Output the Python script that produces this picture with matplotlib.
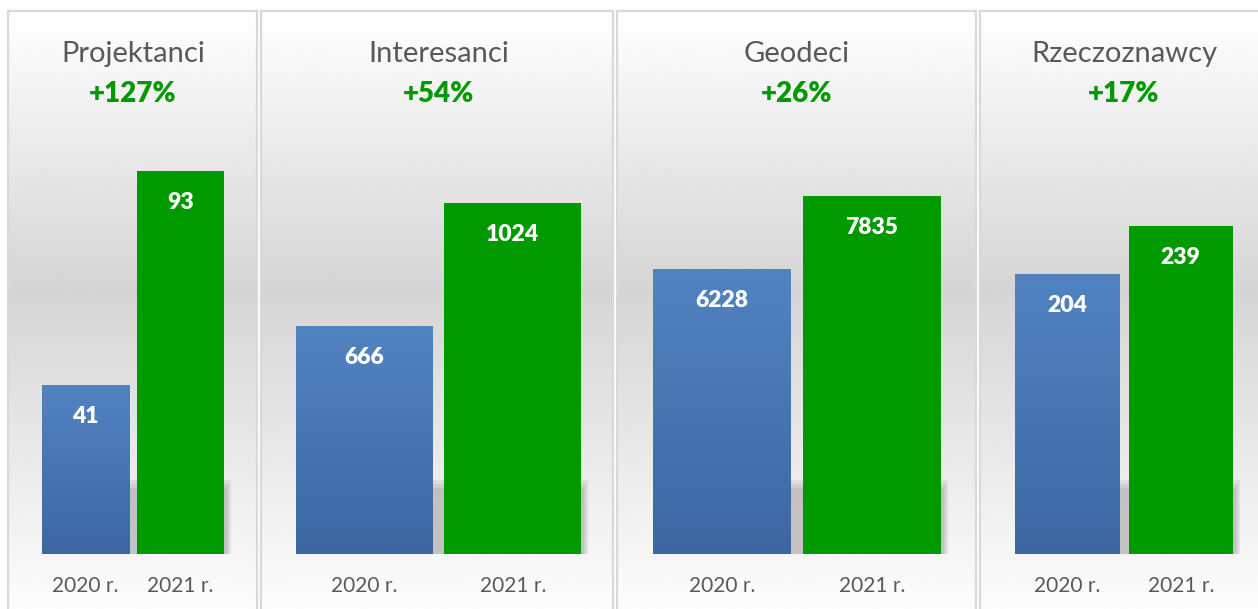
import numpy as np
import matplotlib
matplotlib.use("Agg")
import matplotlib.pyplot as plt
from matplotlib.colors import LinearSegmentedColormap
from matplotlib.patches import Rectangle
import matplotlib.transforms as mtransforms

plt.rcParams['font.family'] = ['Lato', 'DejaVu Sans']

# ---- data ----
groups = ["Projektanci", "Interesanci", "Geodeci", "Rzeczoznawcy"]
changes = ["+127%", "+54%", "+26%", "+17%"]
years = ["2020 r.", "2021 r."]
values_2020 = [41, 666, 6228, 204]
values_2021 = [93, 1024, 7835, 239]

# ---- layout (pixels) ----
W, H = 1258, 609
fig = plt.figure(figsize=(W / 100, H / 100), dpi=100)
fig.patch.set_facecolor("white")

panel_x = [(8, 257), (261, 613), (617, 976), (980, 1262)]
bars_x = [(42, 224), (296, 581), (653, 941), (1015, 1233)]
panel_top = 11
baseline = 554
bar_w = 0.92
plot_top = 11

def fr(x0, y0_top, x1, y1_top):
    return [x0 / W, 1 - y1_top / H, (x1 - x0) / W, (y1_top - y0_top) / H]

# gradient for panel backgrounds
ys = np.linspace(0, 1, 400)  # 0 = top
tpos = (290 - 11) / (609 - 11)
light, dark = 1.0, 0.835
g = np.where(ys < tpos, light - (light - dark) * ys / tpos,
             dark + (0.99 - dark) * (ys - tpos) / (1 - tpos))
grad = np.repeat(g[:, None], 2, axis=1)

blue_cmap = LinearSegmentedColormap.from_list("b", ["#3c67a1", "#5283c1"])
green = "#009900"
text_gray = "#595959"
border = "#d9d9d9"

# pixel scale of each panel's value axis
px_per_unit = [383 / 93, 351 / 1024, 358 / 7835, 328 / 239]

for i in range(4):
    px0, px1 = panel_x[i]
    bg = fig.add_axes(fr(px0, panel_top, px1, H), zorder=0)
    bg.imshow(grad, cmap="gray", vmin=0, vmax=1, aspect="auto",
              extent=[0, 1, 0, 1], interpolation="bilinear")
    bg.set_xlim(0, 1)
    bg.set_ylim(0, 1)
    bg.set_xticks([])
    bg.set_yticks([])
    for s in ["left", "right", "top"]:
        bg.spines[s].set_color(border)
        bg.spines[s].set_linewidth(1.6)
    bg.spines["bottom"].set_visible(False)

    cx = (bars_x[i][0] + bars_x[i][1]) / 2
    fig.text(cx / W, 1 - 54 / H, groups[i], ha="center", va="center",
             fontsize=21, color=text_gray, zorder=5)
    fig.text(cx / W, 1 - 93.5 / H, changes[i], ha="center", va="center",
             fontsize=20, color=green, fontweight="heavy", zorder=5)

    bx0, bx1 = bars_x[i]
    ax = fig.add_axes(fr(bx0, plot_top, bx1, baseline), zorder=2)
    ax.patch.set_alpha(0)
    ymax = (baseline - plot_top) / px_per_unit[i]
    ax.axis("off")

    # soft shadow behind green bar
    unit_px = (bx1 - bx0) / (1 + bar_w)
    trans = mtransforms.blended_transform_factory(ax.transData, ax.transAxes)
    hfr = 1 / (baseline - plot_top)
    for k, a in enumerate([0.3, 0.4, 0.55]):
        ext = (7 - 2 * k) / unit_px
        ax.add_patch(Rectangle((bar_w / 2, 0), 1 + ext, (74 - 4 * k) * hfr,
                               transform=trans, facecolor="#b8b8b8",
                               edgecolor="none", alpha=a, zorder=1,
                               clip_on=False))
    ax.add_patch(Rectangle((bar_w / 2, 0), 1, 50 * hfr, transform=trans,
                           facecolor="#c4c4c4", edgecolor="none", alpha=0.6,
                           zorder=1, clip_on=False))

    bars = ax.bar([0, 1], [values_2020[i], values_2021[i]], width=bar_w,
                  color=["#4a78b4", green], zorder=3)
    b = bars[0]
    img = ax.imshow(np.linspace(0, 1, 256)[:, None], cmap=blue_cmap,
                    aspect="auto", origin="lower",
                    extent=[b.get_x(), b.get_x() + b.get_width(), 0, b.get_height()],
                    zorder=3.5)
    img.set_clip_path(b)
    ax.set_xlim(-bar_w / 2, 1 + bar_w / 2)
    ax.set_ylim(0, ymax)

    for j, v in enumerate([values_2020[i], values_2021[i]]):
        ax.annotate(str(v), (j, v), xytext=(0, -31.5 * 0.72), textcoords="offset points",
                    ha="center", va="center", color="white", fontsize=16.5,
                    fontweight="heavy", zorder=6)
        ax.annotate(years[j], (j, 0), xytext=(0, -31.5 * 0.72), textcoords="offset points",
                    ha="center", va="center", color=text_gray, fontsize=15,
                    annotation_clip=False, zorder=6)

fig.savefig("out.png", dpi=100, facecolor="white")
